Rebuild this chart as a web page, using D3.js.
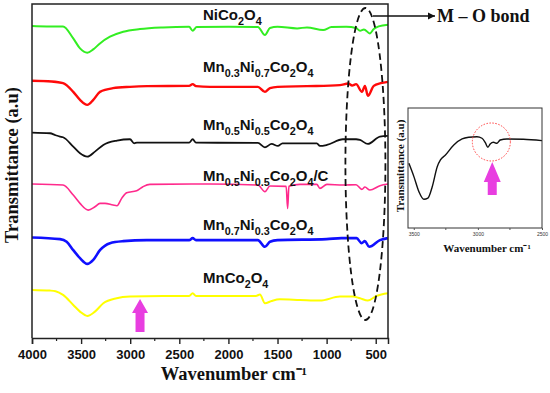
<!DOCTYPE html>
<html>
<head>
<meta charset="utf-8">
<script src="https://cdn.jsdelivr.net/npm/d3@7"></script>
<style>
  body { margin: 0; background: #fff; }
  svg text { font-family: "Liberation Sans", Arial, sans-serif; }
  .serif { font-family: "Liberation Serif", "Times New Roman", serif !important; font-weight: bold; }
</style>
</head>
<body>
<svg id="chart" width="550" height="393"></svg>
<script>
// FTIR spectra, stacked (wavenumber, transmittance a.u.)
var names = ['NiCo2O4', 'Mn0.3Ni0.7Co2O4', 'Mn0.5Ni0.5Co2O4', 'Mn0.5Ni0.5Co2O4/C', 'Mn0.7Ni0.3Co2O4', 'MnCo2O4'];

var niCo = [[4000,93.4],[3850,93.3],[3684,93.3],[3580,89.7],[3511,86.7],[3437,85.4],[3376,86.4],[3308,88.2],
  [3206,90.2],[3071,91.7],[2901,92.5],[2666,93.0],[2400,93.2],[2364,92.0],[2323,93.1],[2000,93.2],[1700,93.1],
  [1628,90.7],[1577,92.8],[1500,93.2],[1300,92.7],[1200,93.0],[1035,92.2],[950,93.1],[800,93.2],[700,92.8],
  [660,92.0],[620,92.4],[560,91.2],[520,92.5],[470,93.3],[375,93.8]];

var mn03 = [[4000,77.0],[3800,76.8],[3684,76.3],[3580,73.7],[3511,71.3],[3437,69.8],[3376,71.3],[3308,73.7],
  [3175,74.8],[3002,75.2],[2829,75.4],[2400,75.5],[2364,76.0],[2330,75.4],[2188,75.2],[1700,75.2],[1628,73.7],
  [1577,74.8],[1500,75.2],[1200,75.4],[865,75.7],[780,76.2],[740,75.6],[700,76.0],[640,73.7],[610,75.5],
  [580,72.5],[520,75.5],[450,76.3],[376,76.7]];

var mn05 = [[4000,61.5],[3817,61.3],[3760,60.7],[3715,60.3],[3684,60.1],[3580,57.3],[3511,55.3],[3437,54.3],
  [3359,55.8],[3274,57.8],[3135,59.1],[3002,59.5],[2960,58.3],[2931,58.5],[2400,58.5],[2364,59.5],[2330,58.5],
  [1700,58.4],[1628,57.1],[1560,58.1],[1496,57.5],[1450,58.3],[1100,58.3],[1068,57.5],[997,57.8],[834,59.5],
  [700,59.5],[661,59.3],[580,58.1],[457,60.3],[376,60.5]];

var mn05C = [[4000,46.1],[3684,45.8],[3580,42.8],[3511,40.3],[3427,38.3],[3359,39.3],[3308,40.3],[3257,40.3],
  [3175,39.8],[3135,39.6],[3087,41.8],[3036,43.5],[2934,44.1],[2870,45.3],[2799,46.0],[2188,46.1],[1700,45.8],
  [1628,43.8],[1577,45.5],[1412,45.4],[1397,38.8],[1384,45.4],[1272,46.0],[1100,46.0],[1068,44.8],[997,46.0],
  [834,45.8],[700,45.9],[641,44.5],[610,45.2],[559,44.3],[457,45.6],[376,46.1]];

var mn07 = [[4000,30.1],[3715,29.6],[3647,28.8],[3580,26.3],[3511,23.9],[3437,22.2],[3376,23.4],[3308,26.3],
  [3206,28.4],[3071,29.0],[2832,29.3],[2400,29.3],[2364,29.9],[2330,29.3],[1700,29.3],[1628,27.3],[1577,28.8],
  [1500,29.3],[1000,29.6],[850,29.9],[695,29.9],[644,28.4],[610,29.0],[567,27.3],[457,29.3],[376,29.9]];

var mnCo = [[4000,14.4],[3817,14.2],[3760,14.0],[3684,12.9],[3580,9.9],[3511,7.9],[3437,6.6],[3359,7.9],
  [3274,10.4],[3138,11.9],[3002,12.4],[2666,12.6],[2400,12.6],[2364,13.4],[2330,12.6],[1720,12.6],[1679,13.0],
  [1628,10.4],[1560,11.1],[1476,11.6],[1272,11.4],[1068,11.2],[864,12.4],[732,12.4],[661,11.9],[580,11.2],
  [491,12.6],[376,13.4]];

// inset: zoom of Mn0.5Ni0.5Co2O4/C between 3545 and 2500
var inset = [[3538,53.9],[3499,42.8],[3460,30.3],[3421,23.9],[3390,24.8],[3356,34.4],[3317,51.1],[3292,56.7],
  [3253,60.8],[3188,69.2],[3123,74.2],[3072,75.6],[3007,76.1],[2968,74.8],[2942,71.1],[2922,67.3],[2904,70.0],
  [2878,71.4],[2852,70.6],[2826,73.3],[2774,74.2],[2645,73.9],[2501,72.8]];

var xTicks = [4000, 3500, 3000, 2500, 2000, 1500, 1000, 500];
var xMinor = [3750, 3250, 2750, 2250, 1750, 1250, 750];
var insetTicks = [3500, 3000, 2500];
var insetMinor = [3250, 2750];

var series = [niCo, mn03, mn05, mn05C, mn07, mnCo];
var colors = ['#33ee22', '#ff0a0a', '#111111', '#ff2a8c', '#1010ff', '#ffff00'];
var widths = [2, 2.4, 1.8, 1.6, 2.6, 2];
var labelY = [20, 72, 130, 181, 230, 283];

var svg = d3.select('#chart');

var x = d3.scaleLinear().domain([4000, 375]).range([32, 388]);
var y = d3.scaleLinear().domain([0, 100]).range([338, 4]);

var line = d3.line()
    .x(function(d) { return x(d[0]); })
    .y(function(d) { return y(d[1]); })
    .curve(d3.curveMonotoneX);

// spectra
svg.append('g').selectAll('path')
    .data(series)
  .enter().append('path')
    .attr('d', line)
    .attr('fill', 'none')
    .attr('stroke', function(d, i) { return colors[i]; })
    .attr('stroke-width', function(d, i) { return widths[i]; })
    .attr('stroke-linejoin', 'round');

// frame
svg.append('path')
    .attr('d', 'M32,338V4H388V338')
    .attr('fill', 'none')
    .attr('stroke', '#222')
    .attr('stroke-width', 1.5);

// x axis
var xAxis = svg.append('g')
    .attr('transform', 'translate(0,338)')
    .call(d3.axisBottom(x).tickValues(xTicks).tickSize(6).tickPadding(6).tickFormat(d3.format('d')));
xAxis.select('.domain').attr('stroke', '#222').attr('stroke-width', 1.5);
xAxis.selectAll('.tick line').attr('stroke', '#222').attr('stroke-width', 1.4);
xAxis.selectAll('text')
    .attr('font-size', 13)
    .attr('font-weight', 'bold')
    .attr('fill', '#111')
    .style('font-family', '"Liberation Sans", Arial, sans-serif');
svg.append('g').selectAll('line')
    .data(xMinor)
  .enter().append('line')
    .attr('x1', x).attr('x2', x)
    .attr('y1', 338).attr('y2', 341)
    .attr('stroke', '#222').attr('stroke-width', 1.2);

// labels with subscripts
function formula(sel, name, size) {
  var parts = name.match(/[A-Za-z\/]+|[0-9.]+/g);
  var sub = false;
  parts.forEach(function(p) {
    var isNum = /^[0-9.]+$/.test(p);
    var t = sel.append('tspan').text(p);
    if (isNum && !sub) { t.attr('dy', 5).attr('font-size', size * 0.72); sub = true; }
    else if (isNum) { t.attr('font-size', size * 0.72); }
    else if (sub) { t.attr('dy', -5); sub = false; }
  });
}

names.forEach(function(n, i) {
  var t = svg.append('text')
      .attr('x', 203)
      .attr('y', labelY[i])
      .attr('font-size', 15)
      .attr('font-weight', 'bold')
      .attr('fill', '#111');
  formula(t, n, 15);
});

// axis titles
svg.append('text')
    .attr('class', 'serif')
    .attr('transform', 'translate(18,165) rotate(-90)')
    .attr('text-anchor', 'middle')
    .attr('font-size', 18.5)
    .attr('fill', '#111')
    .text('Transmittance (a.u)');

svg.append('text')
    .attr('class', 'serif')
    .attr('x', 234)
    .attr('y', 380)
    .attr('text-anchor', 'middle')
    .attr('font-size', 18.5)
    .attr('fill', '#111')
    .text('Wavenumber cm\u207B\u00B9');

// M-O band ellipse and arrow
svg.append('ellipse')
    .attr('cx', x(605)).attr('cy', 164)
    .attr('rx', 20).attr('ry', 156)
    .attr('fill', 'none')
    .attr('stroke', '#111')
    .attr('stroke-width', 1.8)
    .attr('stroke-dasharray', '7,4');

svg.append('defs').append('marker')
    .attr('id', 'head')
    .attr('viewBox', '0 0 10 10')
    .attr('refX', 10).attr('refY', 5)
    .attr('markerWidth', 5).attr('markerHeight', 5)
    .attr('orient', 'auto')
  .append('path')
    .attr('d', 'M0,0L10,5L0,10Z')
    .attr('fill', '#111');

svg.append('line')
    .attr('x1', 373).attr('y1', 16)
    .attr('x2', 435).attr('y2', 16)
    .attr('stroke', '#111')
    .attr('stroke-width', 1.5)
    .attr('marker-end', 'url(#head)');

svg.append('text')
    .attr('class', 'serif')
    .attr('x', 437).attr('y', 22)
    .attr('font-size', 18)
    .attr('fill', '#111')
    .text('M \u2013 O bond');

// magenta up arrows
function upArrow(cx, tip, base, bottom, hw, sw) {
  svg.append('path')
      .attr('d', 'M' + cx + ',' + tip + 'L' + (cx + hw) + ',' + base + 'L' + (cx + sw) + ',' + base +
        'L' + (cx + sw) + ',' + bottom + 'L' + (cx - sw) + ',' + bottom + 'L' + (cx - sw) + ',' + base +
        'L' + (cx - hw) + ',' + base + 'Z')
      .attr('fill', '#e83ee0');
}
upArrow(x(2900), 299, 313, 332, 8, 4.5);

// inset
var ix = d3.scaleLinear().domain([3545, 2500]).range([408, 542]);
var iy = d3.scaleLinear().domain([0, 100]).range([228, 108]);

svg.append('rect')
    .attr('x', 408).attr('y', 108)
    .attr('width', 134).attr('height', 120)
    .attr('fill', '#fff')
    .attr('stroke', '#333')
    .attr('stroke-width', 1);

svg.append('path')
    .datum(inset)
    .attr('d', d3.line().x(function(d) { return ix(d[0]); }).y(function(d) { return iy(d[1]); }).curve(d3.curveMonotoneX))
    .attr('fill', 'none')
    .attr('stroke', '#111')
    .attr('stroke-width', 1.4);

var iAxis = svg.append('g')
    .attr('transform', 'translate(0,228)')
    .call(d3.axisBottom(ix).tickValues(insetTicks).tickSize(2).tickPadding(2).tickFormat(d3.format('d')));
iAxis.select('.domain').remove();
iAxis.selectAll('.tick line').attr('stroke', '#555');
iAxis.selectAll('text').attr('font-size', 5).attr('fill', '#333');
svg.append('g').selectAll('line')
    .data(insetMinor)
  .enter().append('line')
    .attr('x1', ix).attr('x2', ix)
    .attr('y1', 228).attr('y2', 230)
    .attr('stroke', '#555');

svg.append('circle')
    .attr('cx', ix(2895)).attr('cy', 142)
    .attr('r', 19)
    .attr('fill', 'none')
    .attr('stroke', '#ff4040')
    .attr('stroke-width', 1)
    .attr('stroke-dasharray', '1.5,1.5');

upArrow(ix(2888), 162, 182, 195, 8.5, 4.5);

svg.append('text')
    .attr('class', 'serif')
    .attr('transform', 'translate(404,166) rotate(-90)')
    .attr('text-anchor', 'middle')
    .attr('font-size', 11)
    .attr('fill', '#111')
    .text('Transmittance (a.u)');

svg.append('text')
    .attr('class', 'serif')
    .attr('x', 487).attr('y', 252)
    .attr('text-anchor', 'middle')
    .attr('font-size', 11)
    .attr('fill', '#111')
    .text('Wavenumber cm\u207B\u00B9');
</script>
</body>
</html>
